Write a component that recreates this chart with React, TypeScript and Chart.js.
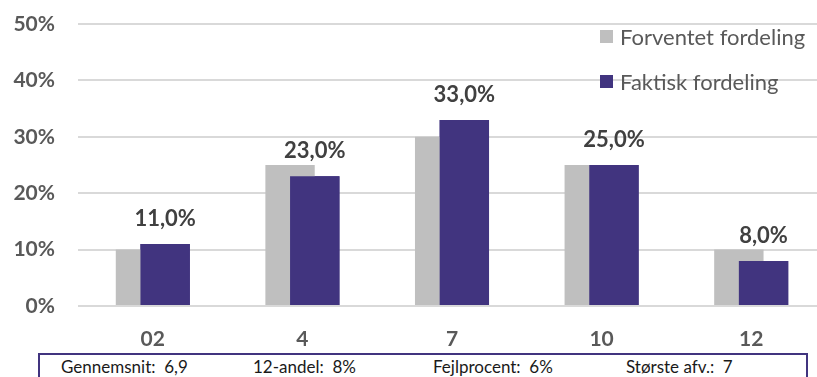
import React, { useEffect, useRef } from "react";
import { Chart, registerables } from "chart.js";

Chart.register(...registerables);

const categories = ["02", "4", "7", "10", "12"];
const expectedValues = [10, 25, 30, 25, 10];
const actualValues = [11, 23, 33, 25, 8];
const yTicks = [0, 10, 20, 30, 40, 50];
const legendLabels = ["Forventet fordeling", "Faktisk fordeling"];
const footerItems = ["Gennemsnit:  6,9", "12-andel:  8%", "Fejlprocent:  6%", "Største afv.:  7"];

const GREY = "#BFBFBF";
const PURPLE = "#41347F";
const TEXT = "#595959";
const FONT = "Lato, 'DejaVu Sans', sans-serif";

export default function App() {
  const ref = useRef<HTMLCanvasElement | null>(null);

  useEffect(() => {
    if (!ref.current) return;
    const labelPlugin = {
      id: "barLabels",
      afterDatasetsDraw(chart: any) {
        const ctx = chart.ctx;
        const meta = chart.getDatasetMeta(1);
        ctx.save();
        // redraw the actual-distribution bars on top of the expected ones
        meta.data.forEach((bar: any) => bar.draw(ctx));
        ctx.font = `bold 22px ${FONT}`;
        ctx.fillStyle = "#404040";
        ctx.textAlign = "center";
        ctx.textBaseline = "middle";
        meta.data.forEach((bar: any, i: number) => {
          const v = actualValues[i];
          ctx.fillText(v.toFixed(1).replace(".", ",") + "%", bar.x, bar.y - 25);
        });
        ctx.restore();
      },
    };
    const chart = new Chart(ref.current, {
      type: "bar",
      data: {
        labels: categories,
        datasets: [
          {
            label: legendLabels[0],
            data: expectedValues,
            backgroundColor: GREY,
          },
          {
            label: legendLabels[1],
            data: actualValues,
            backgroundColor: PURPLE,
          },
        ],
      },
      options: {
        responsive: false,
        animation: false,
        devicePixelRatio: 1,
        layout: { padding: { top: 24, right: 4, left: 0, bottom: 0 } },
        datasets: {
          bar: { categoryPercentage: 0.33, barPercentage: 2 },
        },
        plugins: {
          legend: { display: false },
          tooltip: { enabled: false },
        },
        scales: {
          x: {
            grid: { display: false },
            border: { display: false },
            ticks: {
              color: TEXT,
              font: { family: FONT, size: 21, weight: "bold" },
              padding: 13,
            },
            afterFit: (s: any) => {
              s.height = 46;
            },
          },
          y: {
            min: 0,
            max: 50,
            afterBuildTicks: (s: any) => {
              s.ticks = yTicks.map((v) => ({ value: v }));
            },
            grid: { color: "#D9D9D9", lineWidth: 2, drawTicks: false },
            border: { display: false },
            ticks: {
              color: TEXT,
              font: { family: FONT, size: 21, weight: "bold" },
              padding: 23,
              callback: (v: any) => v + "%",
            },
            afterFit: (s: any) => {
              s.width = 78;
              s.paddingTop = 0;
              s.paddingBottom = 0;
            },
          },
        },
      },
      plugins: [labelPlugin],
    });
    return () => chart.destroy();
  }, []);

  const footerX = [61, 253, 433, 626];

  return (
    <div style={{ position: "fixed", left: 0, top: 0, width: 817, height: 377, overflow: "hidden", background: "#fff", fontFamily: FONT }}>
      <canvas ref={ref} width={830} height={352} style={{ position: "absolute", left: 0, top: 0 }} />
      {legendLabels.map((l, i) => (
        <div key={l} style={{ position: "absolute", left: 600, top: 30 + i * 45, height: 13, display: "flex", alignItems: "center" }}>
          <div style={{ width: 13, height: 13, background: i === 0 ? GREY : PURPLE }} />
          <span style={{ marginLeft: 7, fontSize: 22, color: TEXT, whiteSpace: "nowrap", lineHeight: "13px" }}>{l}</span>
        </div>
      ))}
      <div style={{ position: "absolute", left: 38, top: 353, width: 766, height: 40, borderTop: `2px solid ${PURPLE}`, borderLeft: `2px solid ${PURPLE}`, borderRight: `2px solid ${PURPLE}` }} />
      {footerItems.map((t, i) => (
        <div key={t} style={{ position: "absolute", left: footerX[i], top: 357, fontSize: 17, color: "#1a1a1a", whiteSpace: "pre", lineHeight: "20px" }}>{t}</div>
      ))}
    </div>
  );
}
